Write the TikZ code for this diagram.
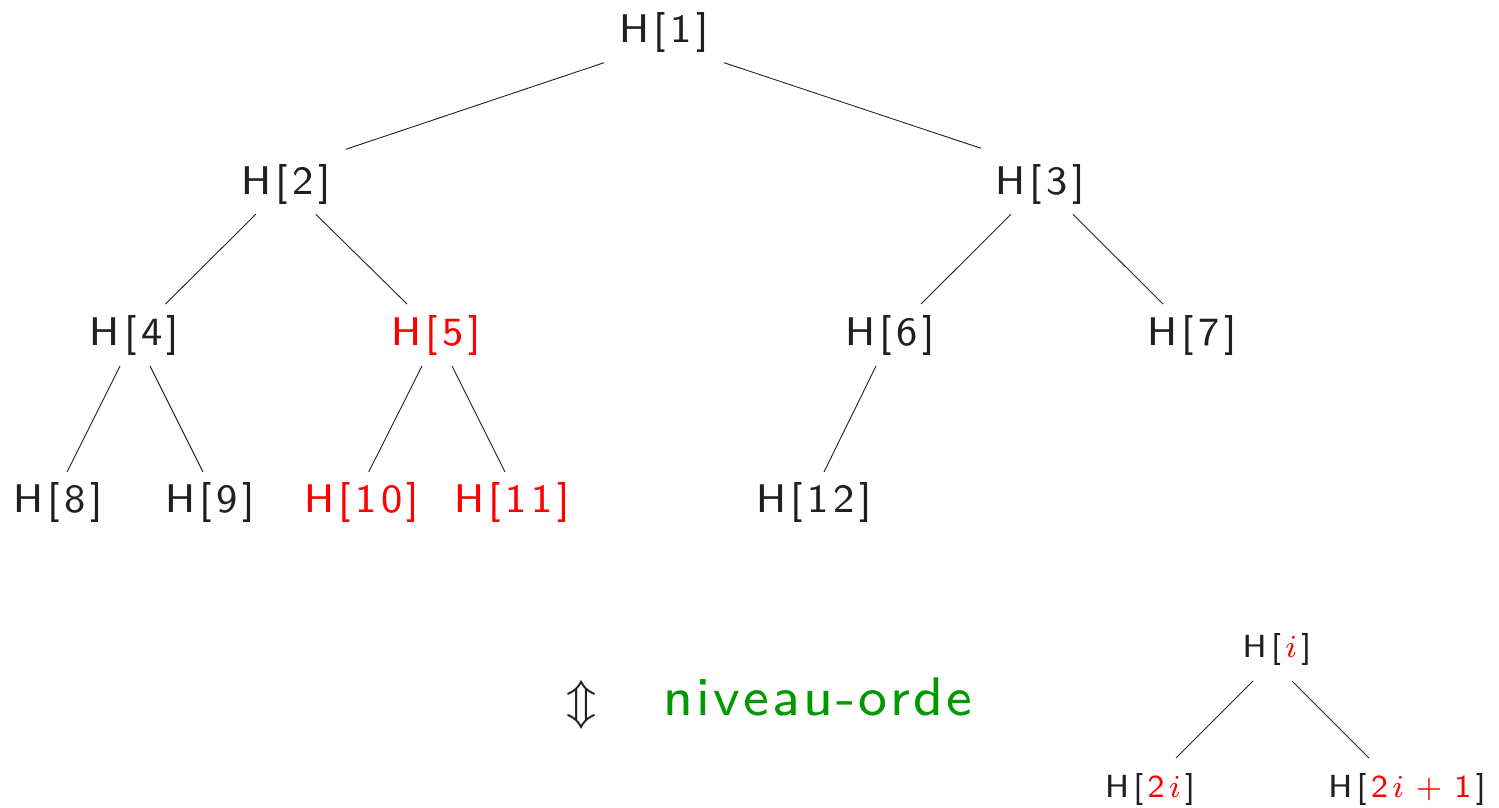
\documentclass[tikz,border=0pt]{standalone}
\usepackage{graphicx}
\usetikzlibrary{calc}
\definecolor{ink}{RGB}{35,31,32}
\definecolor{hot}{RGB}{255,0,0}
\definecolor{lvl}{RGB}{0,153,0}
% text set in the 8pt sans design, magnified and loosely tracked
\newcommand\magtxt[2]{\scalebox{#1}{#2}}
\newcommand\tk{\kern0.9pt}
\newcommand\tkk{\kern1.1pt}
\newcommand\tg{\kern0.46pt}
\newcommand\heap[1]{H\tk[\tk#1\tk]}
\tikzset{
  heapnode/.style={anchor=base, inner sep=0pt, outer sep=0pt, text=ink,
                   font=\fontsize{8}{9.6}\selectfont\sffamily},
  hotnode/.style={heapnode, text=hot},
  edge/.style={draw=ink, line width=0.9pt},
}
\begin{document}
\begin{tikzpicture}[x=1pt,y=-1pt]
\useasboundingbox (0,0) rectangle (1499,808);

% heap tree, level by level
\node[heapnode] (n1)  at (664,42.7)    {\magtxt{5}{\heap{1}}};
\node[heapnode] (n2)  at (285.8,194.3) {\magtxt{5}{\heap{2}}};
\node[heapnode] (n3)  at (1040,194.3)  {\magtxt{5}{\heap{3}}};
\node[heapnode] (n4)  at (134.5,345)   {\magtxt{5}{\heap{4}}};
\node[hotnode]  (n5)  at (436,345)     {\magtxt{5}{\heap{5}}};
\node[heapnode] (n6)  at (890,345)     {\magtxt{5}{\heap{6}}};
\node[heapnode] (n7)  at (1192,345)    {\magtxt{5}{\heap{7}}};
\node[heapnode] (n8)  at (58,512)      {\magtxt{5}{\heap{8}}};
\node[heapnode] (n9)  at (210,512)     {\magtxt{5}{\heap{9}}};
\node[hotnode]  (n10) at (361.7,512)   {\magtxt{5}{\heap{1\tk0}}};
\node[hotnode]  (n11) at (512,512)     {\magtxt{5}{\heap{1\tk1}}};
\node[heapnode] (n12) at (814,512)     {\magtxt{5}{\heap{1\tk2}}};

\draw[edge] ($(n1.base)+(-60,20)$) -- ($(n2.base)+(60,-45)$);
\draw[edge] ($(n1.base)+(60,20)$)  -- ($(n3.base)+(-59,-46)$);
\draw[edge] ($(n2.base)+(-30,20)$) -- ($(n4.base)+(31,-41)$);
\draw[edge] ($(n2.base)+(30,20)$)  -- ($(n5.base)+(-29,-41)$);
\draw[edge] ($(n3.base)+(-29,20)$) -- ($(n6.base)+(31,-41)$);
\draw[edge] ($(n3.base)+(33,20)$)  -- ($(n7.base)+(-29,-41)$);
\draw[edge] ($(n4.base)+(-14.5,21)$) -- ($(n8.base)+(9,-40)$);
\draw[edge] ($(n4.base)+(15.5,21)$)  -- ($(n9.base)+(-7,-40)$);
\draw[edge] ($(n5.base)+(-14,21)$)   -- ($(n10.base)+(7,-40)$);
\draw[edge] ($(n5.base)+(16,21)$)    -- ($(n11.base)+(-7,-40)$);
\draw[edge] ($(n6.base)+(-14,21)$)   -- ($(n12.base)+(10,-40)$);

% level order
\node[heapnode] (ud) at (582,716) {\magtxt{5.8}{$\Updownarrow$}};
\node[heapnode, text=lvl] (lv) at (818,715)
  {\magtxt{6.8}{n\tg i\tg v\tg e\tg a\tg u\tg-\tg o\tg r\tg d\tg e}};

% index rule
\node[heapnode] (ni)   at (1277,657)
  {\magtxt{4}{H\tkk[\tkk\textcolor{hot}{$i$}\tkk]}};
\node[heapnode] (n2i)  at (1150,797)
  {\magtxt{4}{H\tkk[\tkk\textcolor{hot}{$\mathsf{2}\tkk i$}\tkk]}};
\node[heapnode] (n2i1) at (1407,797)
  {\magtxt{4}{H\tkk[\tkk\textcolor{hot}{$\mathsf{2}\tkk i\tkk+\tkk\mathsf{1}$}\tkk]}};
\draw[edge] ($(ni.base)+(-24,24)$) -- ($(n2i.base)+(26,-39)$);
\draw[edge] ($(ni.base)+(15,24)$)  -- ($(n2i1.base)+(-38,-39)$);
\end{tikzpicture}
\end{document}
